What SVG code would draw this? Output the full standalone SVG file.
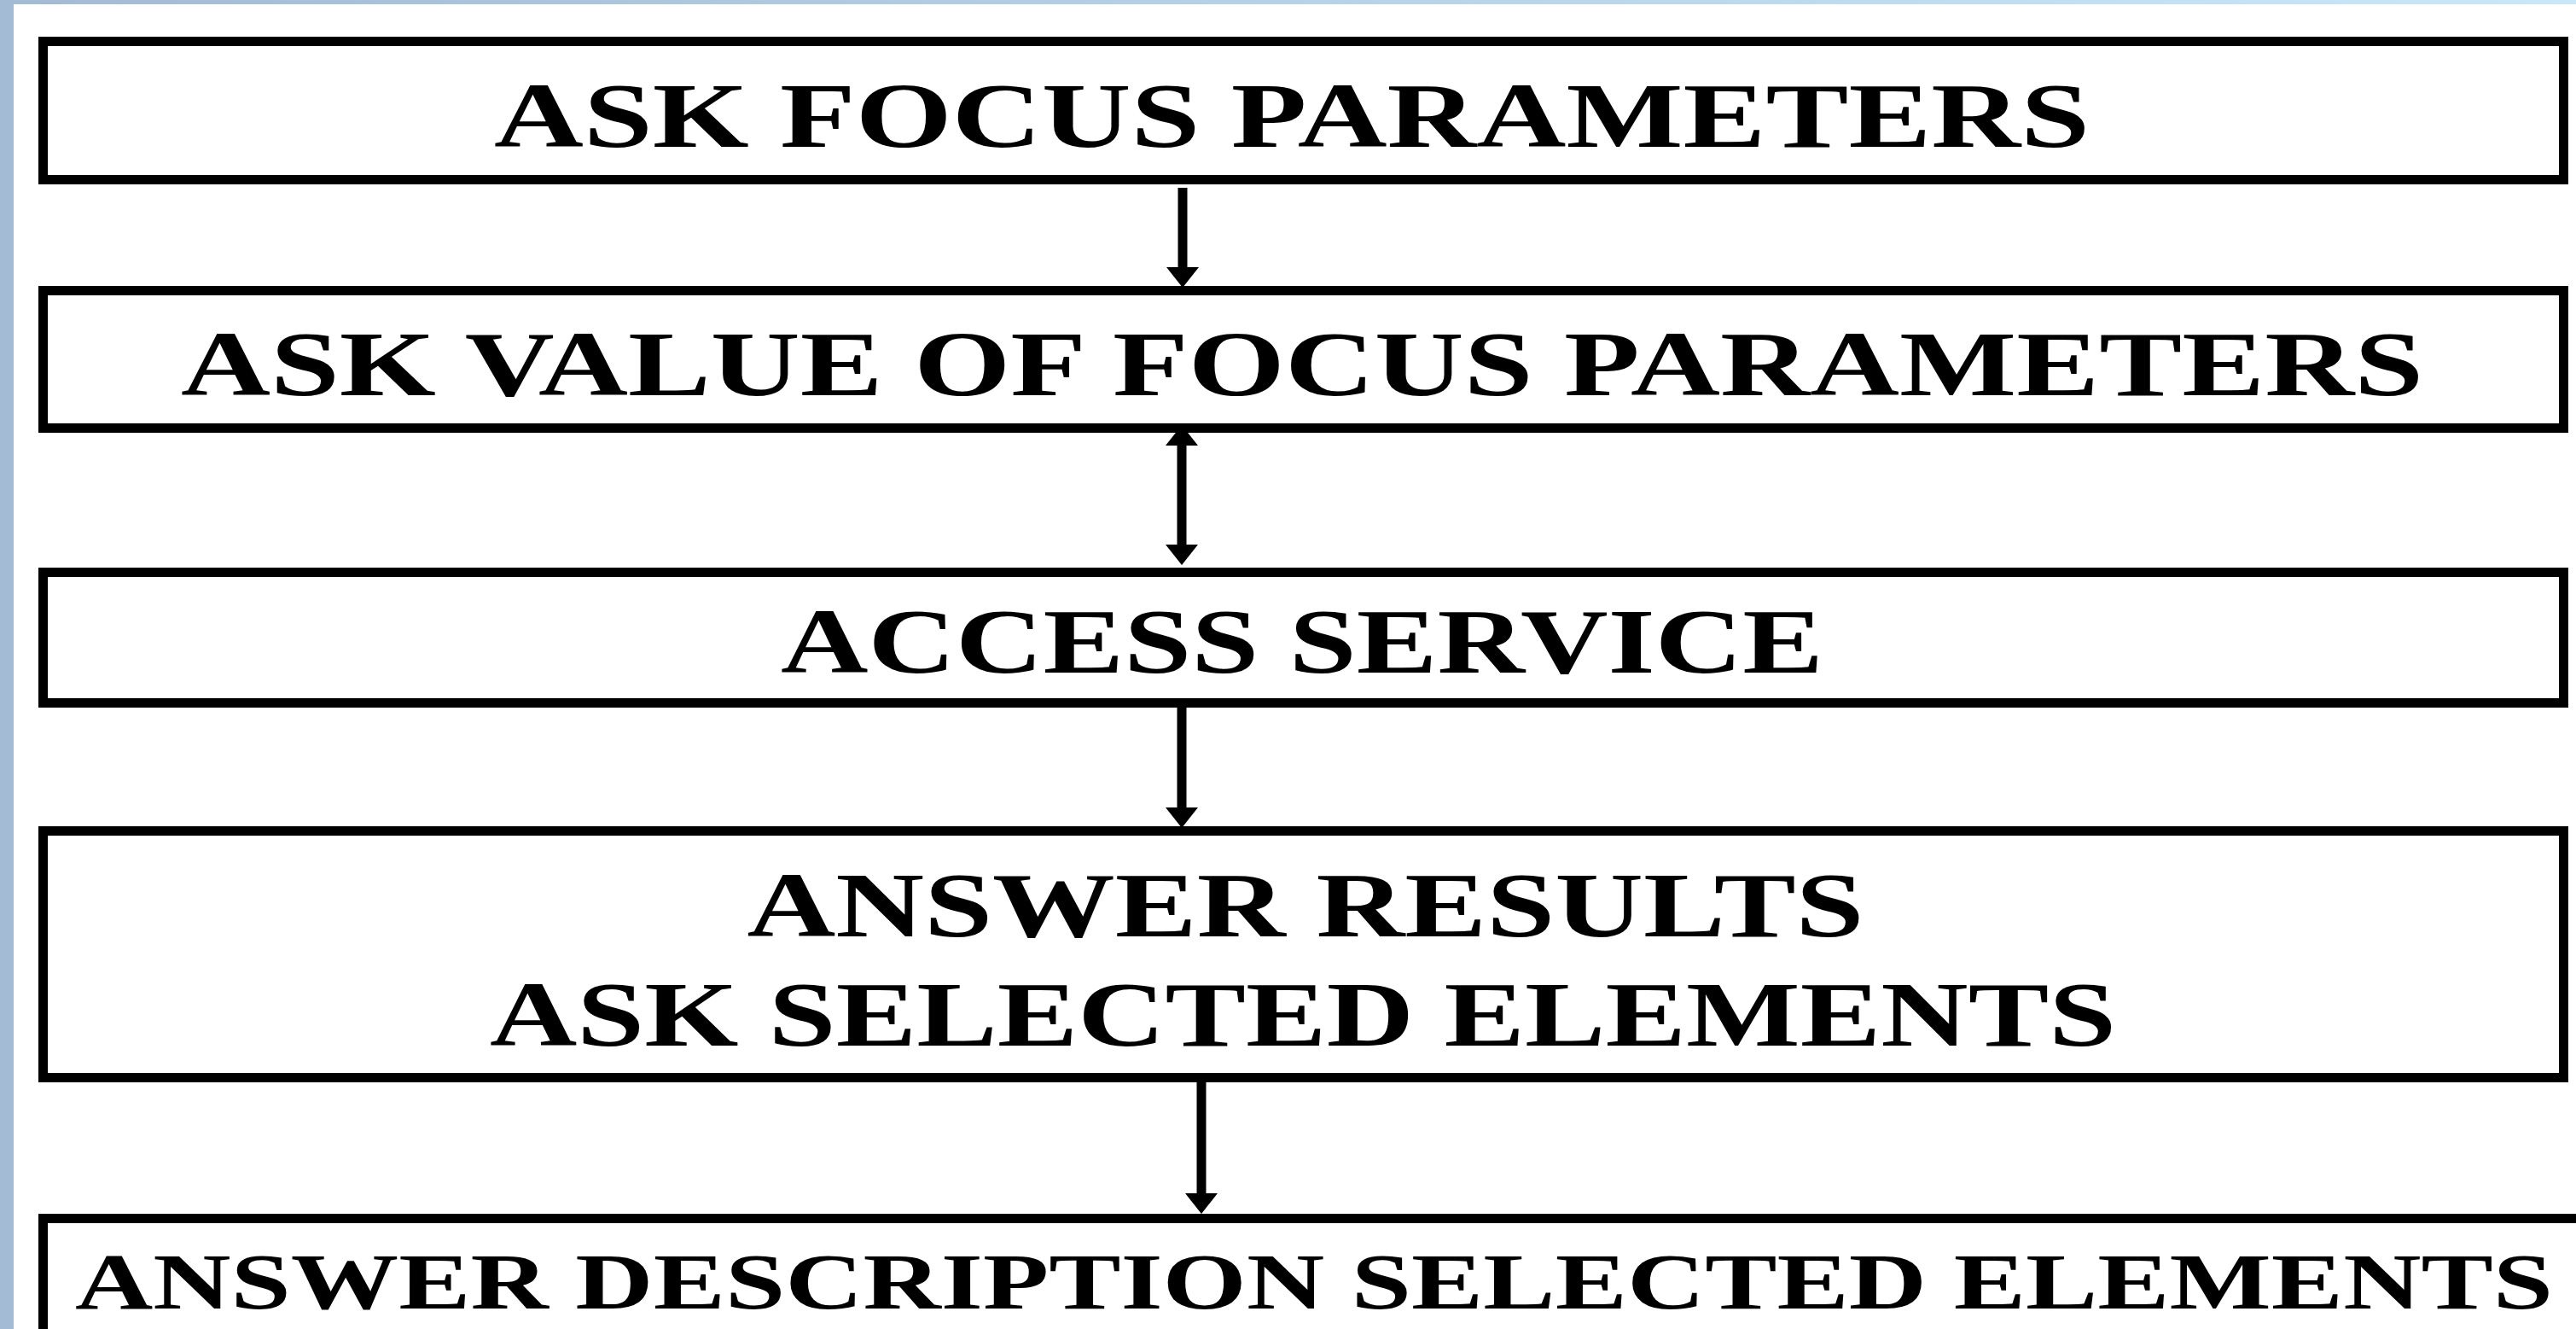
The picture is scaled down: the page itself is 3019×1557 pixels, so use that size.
<svg xmlns="http://www.w3.org/2000/svg" width="3019" height="1557" viewBox="0 0 3019 1557">
  <style>
    .box { fill: #ffffff; stroke: #000000; stroke-width: 11; }
    .lbl { font-family: "Liberation Serif", "Times New Roman", serif; font-weight: bold; fill: #000000; text-anchor: middle; }
    .big { font-size: 107px; }
    .small { font-size: 94px; }
    .conn { stroke: #000000; stroke-width: 11; fill: none; }
  </style>
  <defs>
    <linearGradient id="topband" x1="0" y1="0" x2="1" y2="0">
      <stop offset="0" stop-color="#a3bbd5"/>
      <stop offset="1" stop-color="#c8e8fa"/>
    </linearGradient>
    <marker id="head" markerUnits="userSpaceOnUse" markerWidth="26" markerHeight="38" viewBox="0 0 26 38" refX="2" refY="19" orient="auto-start-reverse">
      <path d="M0,0 L24,19 L0,38 z" fill="#000000"/>
    </marker>
  </defs>
  <rect x="0" y="0" width="3019" height="1557" fill="#ffffff"/>
  <rect x="0" y="0" width="3019" height="5" fill="url(#topband)"/>
  <rect x="0" y="0" width="16" height="1557" fill="#a3bbd5"/>

  <g id="node1">
    <rect class="box" x="50.5" y="48.5" width="2954" height="162"/>
    <text class="lbl big" x="1514" y="172" textLength="1870" lengthAdjust="spacingAndGlyphs">ASK FOCUS PARAMETERS</text>
  </g>
  <g id="node2">
    <rect class="box" x="50.5" y="340.5" width="2954" height="161"/>
    <text class="lbl big" x="1526" y="463" textLength="2628" lengthAdjust="spacingAndGlyphs">ASK VALUE OF FOCUS PARAMETERS</text>
  </g>
  <g id="node3">
    <rect class="box" x="50.5" y="670.5" width="2954" height="153"/>
    <text class="lbl big" x="1526" y="788" textLength="1222" lengthAdjust="spacingAndGlyphs">ACCESS SERVICE</text>
  </g>
  <g id="node4">
    <rect class="box" x="50.5" y="973.5" width="2954" height="289"/>
    <text class="lbl big" x="1530" y="1097" textLength="1309" lengthAdjust="spacingAndGlyphs">ANSWER RESULTS</text>
    <text class="lbl big" x="1527" y="1225" textLength="1906" lengthAdjust="spacingAndGlyphs">ASK SELECTED ELEMENTS</text>
  </g>
  <g id="node5">
    <rect class="box" x="50.5" y="1427.5" width="3100" height="300"/>
    <text class="lbl small" x="1540" y="1533" textLength="2904" lengthAdjust="spacingAndGlyphs">ANSWER DESCRIPTION SELECTED ELEMENTS</text>
  </g>

  <g id="connectors">
    <line class="conn" x1="1386" y1="220" x2="1386" y2="315" marker-end="url(#head)"/>
    <line class="conn" x1="1385" y1="520" x2="1385" y2="640" marker-start="url(#head)" marker-end="url(#head)"/>
    <line class="conn" x1="1385" y1="829" x2="1385" y2="948" marker-end="url(#head)"/>
    <line class="conn" x1="1408" y1="1268" x2="1408" y2="1400" marker-end="url(#head)"/>
  </g>
</svg>
